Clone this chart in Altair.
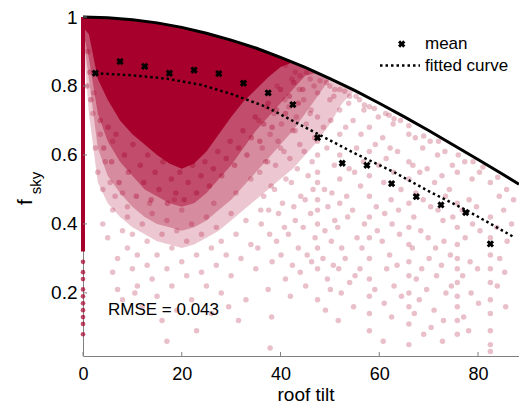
import altair as alt
import pandas as pd

RED = "#a7002c"
FONT = "Liberation Sans"

# upper bound curve
bound_x = [0, 5, 10, 15, 20, 25, 30, 35, 40, 45, 50, 55, 60, 65, 70, 75, 80, 85, 88.3]
bound_y = [1.0, 0.998, 0.992, 0.983, 0.970, 0.953, 0.933, 0.910, 0.883, 0.854,
           0.821, 0.787, 0.750, 0.711, 0.671, 0.629, 0.587, 0.544, 0.515]

# mean markers
mean_x = [2.5, 7.5, 12.5, 17.5, 22.5, 27.5, 32.5, 37.5, 42.5, 47.5, 52.5, 57.5,
          62.5, 67.5, 72.5, 77.5, 82.5]
mean_y = [0.837, 0.871, 0.857, 0.837, 0.846, 0.836, 0.808, 0.780, 0.746, 0.650,
          0.576, 0.570, 0.517, 0.479, 0.455, 0.433, 0.342]

# fitted curve
fit_x = [2.5, 10, 17, 24, 30, 37, 47, 55, 63, 70, 78, 87.5]
fit_y = [0.837, 0.831, 0.821, 0.803, 0.777, 0.740, 0.665, 0.605, 0.550, 0.495, 0.437, 0.360]

# dense point cloud envelopes (graded density)
dens_x = [0, 1.2, 3, 5, 7.5, 10, 12.5, 15, 17.5, 20, 22.5, 25, 27.5, 30, 32.5, 35,
          37.5, 40, 42.5, 45, 47.5, 50, 52.5, 55]
dens_top = [1.0, 1.0, 0.999, 0.998, 0.996, 0.992, 0.988, 0.983, 0.977, 0.970, 0.962,
            0.953, 0.943, 0.933, 0.922, 0.910, 0.897, 0.883, 0.869, 0.854, 0.838,
            0.821, 0.804, 0.787]
lo_1 = [0.94, 0.72, 0.52, 0.46, 0.42, 0.39, 0.37, 0.35, 0.34, 0.33, 0.34, 0.36, 0.38,
        0.41, 0.44, 0.47, 0.50, 0.53, 0.56, 0.60, 0.64, 0.69, 0.75, 0.787]
lo_2 = [0.95, 0.82, 0.62, 0.54, 0.49, 0.45, 0.42, 0.40, 0.39, 0.38, 0.39, 0.41, 0.44,
        0.47, 0.51, 0.55, 0.59, 0.63, 0.67, 0.72, 0.77, 0.821]
lo_3 = [0.96, 0.88, 0.72, 0.64, 0.58, 0.54, 0.50, 0.48, 0.46, 0.45, 0.46, 0.49, 0.53,
        0.57, 0.62, 0.67, 0.71, 0.75, 0.79, 0.83, 0.838]
lo_4 = [0.97, 0.95, 0.82, 0.76, 0.70, 0.66, 0.63, 0.60, 0.575, 0.56, 0.575, 0.61, 0.66,
        0.71, 0.755, 0.79, 0.825, 0.855, 0.869]

# points at zero tilt
zero_y = [0.29, 0.26, 0.24, 0.21, 0.19, 0.17, 0.15, 0.13, 0.11, 0.08]

# scattered points inside the cloud fringe
mid_pts = [(3.5, 0.70), (4.2, 0.62), (5.1, 0.68), (5.8, 0.58), (6.7, 0.66), (7.3, 0.52),
           (8.4, 0.60), (9.2, 0.55), (10.1, 0.63), (10.8, 0.48), (11.6, 0.57), (12.3, 0.52),
           (13.1, 0.60), (13.8, 0.47), (14.6, 0.55), (15.4, 0.50), (16.2, 0.58), (17.1, 0.46),
           (17.9, 0.53), (18.8, 0.49), (19.6, 0.55), (20.5, 0.47), (21.3, 0.52), (22.2, 0.57),
           (23.0, 0.49), (23.9, 0.54), (24.7, 0.58), (25.6, 0.51), (26.4, 0.56), (27.3, 0.61),
           (28.1, 0.54), (29.0, 0.59), (29.8, 0.64), (30.7, 0.57), (31.5, 0.62), (32.4, 0.67),
           (33.2, 0.60), (34.1, 0.65), (34.9, 0.71), (35.8, 0.64), (36.6, 0.69), (37.5, 0.75),
           (38.3, 0.68), (39.2, 0.73), (40.0, 0.79), (41.0, 0.72), (41.8, 0.77), (42.7, 0.81),
           (43.6, 0.75), (44.5, 0.79), (1.0, 0.90), (1.4, 0.84), (0.8, 0.80), (1.6, 0.76)]

# scattered points, lower left
ll_pts = [(2.5, 0.62), (3, 0.55), (3.5, 0.66), (4, 0.50), (4.5, 0.58), (5.5, 0.52),
          (6, 0.64), (6.5, 0.48), (2, 0.72), (2.2, 0.78), (8, 0.49), (9, 0.45),
          (4, 0.40), (5, 0.36), (6, 0.44), (7, 0.30), (7, 0.21), (8, 0.38), (8, 0.18),
          (9, 0.33), (9, 0.42), (10, 0.27), (10, 0.37), (11, 0.22), (11, 0.31),
          (12, 0.40), (12, 0.16), (13, 0.35), (13, 0.28), (14, 0.24), (14, 0.43),
          (15, 0.31), (15, 0.19), (16, 0.37), (16, 0.12), (17, 0.27), (17, 0.41),
          (17, 0.06), (18, 0.33), (18, 0.22), (19, 0.38), (19, 0.15), (20, 0.29),
          (20, 0.44), (21, 0.25), (21, 0.35), (22, 0.40), (22, 0.18), (23, 0.31),
          (23, 0.09), (24, 0.37), (24, 0.26), (25, 0.22), (25, 0.42), (26, 0.33),
          (26, 0.14), (27, 0.28), (27, 0.39), (28, 0.35), (28, 0.20), (29, 0.31),
          (30, 0.43), (30, 0.25), (31, 0.37), (32, 0.30), (33, 0.41), (33, 0.18),
          (34, 0.34), (35, 0.27), (36, 0.44), (29.5, 0.16), (31.5, 0.12), (6, 0.26),
          (10.5, 0.20), (13.5, 0.46), (18.5, 0.47), (26.5, 0.46), (31, 0.49),
          (34, 0.53), (37, 0.58), (40, 0.62), (43, 0.67), (46, 0.72), (50, 0.76)]

# scattered points, right part
rt_pts = [(35.6, 0.70), (36.3, 0.62), (35.8, 0.55), (36.6, 0.48), (36.1, 0.40), (35.4, 0.33),
          (37.2, 0.74), (37.9, 0.66), (37.4, 0.58), (38.1, 0.51), (37.6, 0.44), (37.8, 0.37),
          (38.3, 0.29), (37.5, 0.21), (38.2, 0.13), (37.9, 0.04),
          (39.3, 0.80), (38.7, 0.72), (39.5, 0.64), (39.0, 0.57), (38.8, 0.50), (39.6, 0.43),
          (39.2, 0.35), (40.9, 0.76), (40.2, 0.69), (40.7, 0.61), (41.1, 0.53), (40.4, 0.46),
          (40.8, 0.39), (40.1, 0.31), (41.0, 0.24), (42.3, 0.82), (41.7, 0.74), (42.5, 0.67),
          (41.9, 0.59), (42.2, 0.52), (42.7, 0.45), (41.6, 0.37), (42.4, 0.28), (42.0, 0.19),
          (43.8, 0.79), (43.2, 0.71), (43.9, 0.63), (43.4, 0.56), (44.1, 0.48), (43.0, 0.41),
          (43.6, 0.33), (44.0, 0.26), (45.3, 0.84), (44.7, 0.76), (45.2, 0.69), (44.8, 0.61),
          (45.6, 0.54), (45.0, 0.47), (44.6, 0.39), (45.4, 0.31), (45.1, 0.22),
          (46.8, 0.80), (46.2, 0.73), (46.9, 0.65), (46.4, 0.58), (46.6, 0.50), (46.1, 0.43),
          (47.0, 0.36), (46.3, 0.29),
          (47.5, 0.78), (47.5, 0.71), (47.5, 0.64), (47.5, 0.60), (47.5, 0.55), (47.5, 0.52),
          (47.5, 0.47), (47.5, 0.44), (47.5, 0.40), (47.5, 0.33), (47.5, 0.27), (47.5, 0.18),
          (49.3, 0.81), (48.7, 0.68), (49.4, 0.62), (48.9, 0.50), (49.6, 0.45), (49.0, 0.38),
          (48.6, 0.30), (49.5, 0.24), (49.1, 0.15), (50.8, 0.77), (50.2, 0.70), (50.9, 0.57),
          (50.4, 0.49), (51.0, 0.41), (50.3, 0.35), (50.7, 0.28), (50.1, 0.21),
          (52.0, 0.79), (52.0, 0.73), (52.0, 0.66), (52.0, 0.60), (52.0, 0.53), (52.0, 0.46),
          (51.6, 0.39), (52.4, 0.33), (51.8, 0.27), (52.3, 0.20), (51.7, 0.12),
          (53.8, 0.75), (53.2, 0.68), (53.9, 0.56), (53.4, 0.48), (53.6, 0.42), (53.1, 0.30),
          (54.0, 0.23), (55.3, 0.77), (54.7, 0.70), (55.4, 0.62), (55.0, 0.55), (54.6, 0.44),
          (55.5, 0.36), (55.1, 0.25), (54.8, 0.16), (56.9, 0.73), (56.3, 0.66), (56.8, 0.58),
          (56.2, 0.51), (57.0, 0.40), (56.5, 0.33), (56.1, 0.27),
          (58.0, 0.74), (58.0, 0.68), (58.0, 0.61), (58.0, 0.54), (58.0, 0.48), (58.0, 0.42),
          (58.0, 0.36), (58.0, 0.30), (58.0, 0.24), (58.0, 0.19), (58.0, 0.14), (58.0, 0.09),
          (59.8, 0.71), (59.2, 0.63), (59.9, 0.57), (59.4, 0.45), (59.6, 0.38), (59.1, 0.21),
          (61.3, 0.72), (60.7, 0.65), (61.4, 0.59), (60.9, 0.52), (61.1, 0.43), (60.6, 0.35),
          (61.5, 0.27), (61.0, 0.17), (60.8, 0.06), (62.8, 0.69), (62.2, 0.62), (62.9, 0.55),
          (62.4, 0.47), (62.6, 0.40), (62.1, 0.31), (63.0, 0.22), (62.5, 0.13),
          (64.3, 0.70), (63.7, 0.61), (64.4, 0.50), (63.9, 0.44), (64.1, 0.37), (63.6, 0.28),
          (64.5, 0.19),
          (66.0, 0.66), (66.0, 0.58), (66.0, 0.53), (66.0, 0.46), (66.0, 0.39), (66.0, 0.34),
          (66.0, 0.29), (66.0, 0.25), (66.0, 0.20), (66.0, 0.16), (66.0, 0.11), (66.0, 0.05),
          (67.3, 0.65), (66.8, 0.57), (67.4, 0.49), (67.0, 0.42), (66.7, 0.33), (67.5, 0.24),
          (67.1, 0.14), (68.8, 0.62), (68.2, 0.55), (68.9, 0.47), (68.4, 0.38), (68.6, 0.27),
          (68.1, 0.18), (69.0, 0.08), (70.3, 0.64), (69.7, 0.56), (70.4, 0.45), (69.9, 0.36),
          (70.1, 0.30), (69.6, 0.21), (70.5, 0.10), (71.8, 0.60), (71.2, 0.52), (71.9, 0.44),
          (71.4, 0.33), (71.6, 0.25), (71.1, 0.15), (73.3, 0.61), (72.7, 0.54), (73.4, 0.48),
          (72.9, 0.41), (73.1, 0.35), (72.6, 0.28), (73.5, 0.20), (73.0, 0.12), (72.8, 0.06),
          (74.8, 0.57), (74.2, 0.50), (74.9, 0.42), (74.4, 0.31), (74.6, 0.22),
          (75.8, 0.55), (75.8, 0.46), (75.8, 0.39), (75.8, 0.34), (75.8, 0.30), (75.8, 0.27),
          (75.8, 0.23), (75.8, 0.19), (75.8, 0.16), (75.8, 0.12), (75.8, 0.08),
          (77.3, 0.58), (76.8, 0.44), (77.4, 0.36), (76.9, 0.25), (77.1, 0.13),
          (78.8, 0.53), (78.2, 0.47), (78.9, 0.40), (78.4, 0.29), (78.6, 0.20), (78.1, 0.09),
          (80.3, 0.55), (79.7, 0.45), (80.4, 0.38), (79.9, 0.27), (80.1, 0.17),
          (82.5, 0.52), (82.5, 0.42), (82.5, 0.36), (82.5, 0.31), (82.5, 0.27), (82.5, 0.23),
          (82.5, 0.18), (82.5, 0.14), (82.5, 0.09), (82.5, 0.05), (82.5, 0.03),
          (84.3, 0.48), (83.8, 0.39), (84.4, 0.30), (83.9, 0.22),
          (85.8, 0.50), (85.2, 0.44), (85.9, 0.35), (85.4, 0.26), (85.6, 0.16),
          (87.2, 0.47), (86.8, 0.40),
          (41, 0.86), (43, 0.84), (44, 0.83), (46, 0.82), (48, 0.815), (50, 0.80), (51, 0.79),
          (53, 0.785), (54, 0.77), (56, 0.76), (57, 0.745), (59, 0.735), (62, 0.715),
          (63, 0.705), (66, 0.685), (69, 0.655), (72, 0.64), (76, 0.60), (79, 0.58),
          (81, 0.565), (84, 0.535)]

x_ticks = [0, 20, 40, 60, 80]
y_ticks = [0.2, 0.4, 0.6, 0.8, 1.0]

W, H = 436, 339
XD = [0, 88.3]
YD = [0.017, 1.0]

xs = alt.Scale(domain=XD, nice=False, zero=False)
ys = alt.Scale(domain=YD, nice=False, zero=False)

AX = alt.Axis(values=x_ticks, title=None, grid=False, ticks=False, tickSize=0,
              labelFontSize=18, labelFont=FONT, labelColor="black", labelPadding=9,
              domainColor="#808080", labelFlush=False)
AY = alt.Axis(values=y_ticks, format="~g", title=None, grid=False, ticks=False, tickSize=0,
              labelFontSize=19, labelFont=FONT, labelColor="black", labelPadding=6,
              domainColor="#808080", labelFlush=False)


def X(field="x"):
    return alt.X(f"{field}:Q", scale=xs, axis=AX)


def Y(field="y"):
    return alt.Y(f"{field}:Q", scale=ys, axis=AY)


def pairs_df(pts):
    return pd.DataFrame({"x": [p[0] for p in pts], "y": [p[1] for p in pts]})


def env_df(lo):
    n = len(lo)
    return pd.DataFrame({"x": dens_x[:n], "top": dens_top[:n], "lo": lo})


bound_df = pd.DataFrame({"x": bound_x, "y": bound_y})
mean_df = pd.DataFrame({"x": mean_x, "y": mean_y})
fit_df = pd.DataFrame({"x": fit_x, "y": fit_y})
zero_df = pd.DataFrame({"x": [0] * len(zero_y), "y": zero_y})
band_df = pd.DataFrame({"x": [0], "y": [0.32], "y2": [1.0]})
xt_df = pd.DataFrame({"x": x_ticks})
yt_df = pd.DataFrame({"y": y_ticks})
one = pd.DataFrame({"a": [0]})

layers = []
for lo, op in [(lo_1, 0.22), (lo_2, 0.3), (lo_3, 0.45), (lo_4, 1.0)]:
    layers.append(alt.Chart(env_df(lo)).mark_area(color=RED, opacity=op).encode(
        x=X(), y=Y("lo"), y2="top:Q"))

mid_sc = alt.Chart(pairs_df(mid_pts)).mark_circle(color=RED, opacity=0.35, size=30).encode(
    x=X(), y=Y())
scatter = alt.Chart(pairs_df(ll_pts + rt_pts)).mark_circle(color=RED, opacity=0.25, size=30).encode(
    x=X(), y=Y())
zero_pts = alt.Chart(zero_df).mark_circle(color=RED, opacity=0.7, size=22).encode(
    x=X(), y=Y())
band = alt.Chart(band_df).mark_rule(color=RED, strokeWidth=4).encode(
    x=X(), y=Y(), y2="y2:Q")

bound = alt.Chart(bound_df).mark_line(color="black", strokeWidth=3).encode(x=X(), y=Y())
fit = alt.Chart(fit_df).mark_line(color="black", strokeWidth=2.5, strokeDash=[2.5, 3]).encode(
    x=X(), y=Y())
means = alt.Chart(mean_df).mark_point(shape="cross", angle=45, filled=True, color="black",
                                      size=55, opacity=1).encode(x=X(), y=Y())

xticks = alt.Chart(xt_df).mark_rule(color="#808080").encode(
    x=X(), y=alt.value(H), y2=alt.value(H - 4))
yticks = alt.Chart(yt_df).mark_rule(color="#808080").encode(
    y=Y(), x=alt.value(0), x2=alt.value(4))

leg_x = alt.Chart(one).mark_point(shape="cross", angle=45, filled=True, color="black",
                                  size=55, opacity=1).encode(x=alt.value(318.7), y=alt.value(27))
leg_line = alt.Chart(one).mark_rule(color="black", strokeWidth=2.5, strokeDash=[2.5, 3]).encode(
    x=alt.value(297), x2=alt.value(337), y=alt.value(48.5))
leg_t1 = alt.Chart(one).mark_text(align="left", baseline="middle", fontSize=17, font=FONT,
                                  color="black").encode(
    x=alt.value(342), y=alt.value(27), text=alt.value("mean"))
leg_t2 = alt.Chart(one).mark_text(align="left", baseline="middle", fontSize=17, font=FONT,
                                  color="black").encode(
    x=alt.value(342), y=alt.value(48.5), text=alt.value("fitted curve"))
rmse = alt.Chart(one).mark_text(align="left", baseline="middle", fontSize=17, font=FONT,
                                color="black").encode(
    x=alt.value(25), y=alt.value(293), text=alt.value("RMSE = 0.043"))

x_title = alt.Chart(one).mark_text(align="center", baseline="alphabetic", fontSize=19,
                                   font=FONT, color="black").encode(
    x=alt.value(223), y=alt.value(384), text=alt.value("roof tilt"))
yt_f = alt.Chart(one).mark_text(angle=270, align="center", baseline="middle", fontSize=21,
                                font=FONT, color="black").encode(
    x=alt.value(-57), y=alt.value(185), text=alt.value("f"))
yt_s = alt.Chart(one).mark_text(angle=270, align="center", baseline="middle", fontSize=15,
                                font=FONT, color="black").encode(
    x=alt.value(-47), y=alt.value(166), text=alt.value("sky"))

chart = alt.layer(
    *layers, mid_sc, scatter, zero_pts, band, bound, fit, means,
    xticks, yticks, leg_x, leg_line, leg_t1, leg_t2, rmse, x_title, yt_f, yt_s,
).properties(
    width=W, height=H,
    padding={"left": 75, "top": 9, "right": 0, "bottom": 49},
    autosize=alt.AutoSizeParams(type="none"),
).configure_view(stroke=None)

chart.save("out.html", embed_options={"renderer": "svg", "actions": False})
